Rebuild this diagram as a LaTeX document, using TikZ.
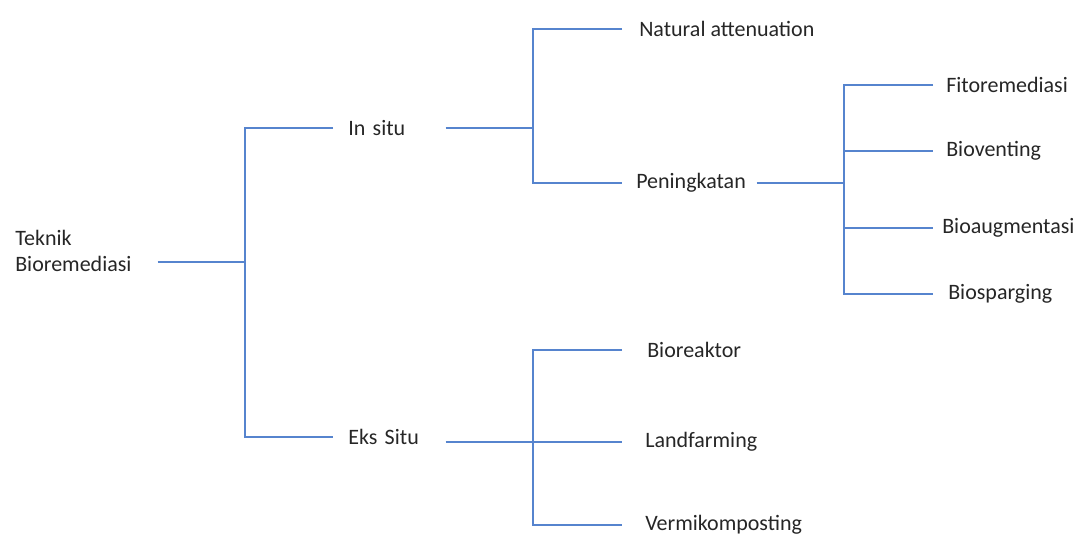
\documentclass[tikz,border=0pt]{standalone}
\usepackage{fontspec}
\setmainfont{Carlito}
\usetikzlibrary{positioning}
\definecolor{branchblue}{RGB}{86,132,206}
\tikzset{
  branch/.style={draw=branchblue,line width=1.3pt},
  item/.style={anchor=west,inner sep=0pt,font=\fontsize{16.5}{20}\selectfont,text=black!85},
  parent/.style={item,text width=#1*0.75pt,align=left}
}
\begin{document}
\begin{tikzpicture}[x=0.75pt,y=-0.75pt]
\useasboundingbox (0,0) rectangle (1079,538);

% Nodes
\node[parent=142] (root) at (15,251) {Teknik\\Bioremediasi};
\node[parent=97] (insitu) at (348,128) {In situ};
\node[parent=97] (ekssitu) at (348,437) {Eks Situ};
\node[item] (natatt) at (639,29) {Natural attenuation};
\node[parent=120] (pening) at (636,183) {Peningkatan};
\node[item] (fito) at (946,85) {Fitoremediasi};
\node[item] (biovent) at (946,151) {Bioventing};
\node[item] (bioaug) at (942,228) {Bioaugmentasi};
\node[item] (biosparg) at (948,294) {Biosparging};
\node[item] (bioreak) at (647,350) {Bioreaktor};
\node[item] (landf) at (645,442) {Landfarming};
\node[item] (vermi) at (645,525) {Vermikomposting};

% Junctions
\coordinate (j0) at (245,262);
\coordinate (j1) at (533,128);
\coordinate (j2) at (844,183);
\coordinate (j3) at (533,442);

% Root
\draw[branch] (root.east |- j0) -- (j0);
\draw[branch,shorten <=11.25pt,shorten >=11.25pt] (insitu.west) -| (j0) |- (ekssitu.west);

% In situ
\draw[branch] (insitu.east) -- (j1);
\draw[branch,shorten <=12.75pt,shorten >=10.5pt] (natatt.west) -| (j1) |- (pening.west);
\draw[branch] (pening.east) -- (j2);
\draw[branch,shorten <=9.75pt,shorten >=11.25pt] (fito.west) -| (j2) |- (biosparg.west);
\draw[branch,shorten >=9.75pt] (j2 |- biovent) -- (biovent.west);
\draw[branch,shorten >=6.75pt] (j2 |- bioaug) -- (bioaug.west);

% Eks situ
\draw[branch,shorten >=17.25pt] (ekssitu.east |- j3) -- (landf.west);
\draw[branch,shorten <=18.75pt,shorten >=17.25pt] (bioreak.west) -| (j3) |- (vermi.west);

\end{tikzpicture}
\end{document}
